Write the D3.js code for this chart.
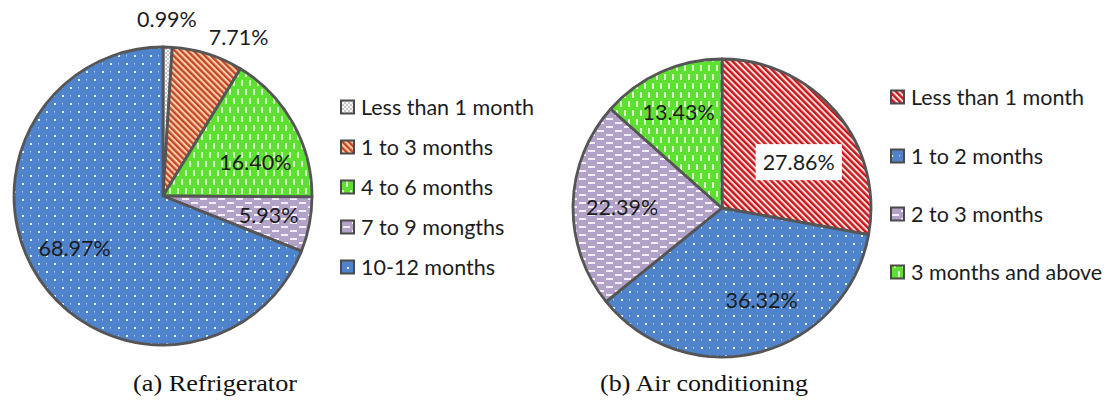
<!DOCTYPE html>
<html>
<head>
<meta charset="utf-8">
<script src="https://cdn.jsdelivr.net/npm/d3@7"></script>
<style>
  html, body { margin: 0; padding: 0; background: #ffffff; }
  svg { display: block; }
</style>
</head>
<body>
<svg id="chart" width="1114" height="403"></svg>
<script>
// ---------------- data ----------------
const fridgeCategories = ["Less than 1 month", "1 to 3 months", "4 to 6 months", "7 to 9 mongths", "10-12 months"];
const fridgeValues = [0.99, 7.71, 16.40, 5.93, 68.97];
const fridgeLabels = ["0.99%", "7.71%", "16.40%", "5.93%", "68.97%"];

const acCategories = ["Less than 1 month", "1 to 2 months", "2 to 3 months", "3 months and above"];
const acValues = [27.86, 36.32, 22.39, 13.43];
const acLabels = ["27.86%", "36.32%", "22.39%", "13.43%"];

const captions = ["(a) Refrigerator", "(b) Air conditioning"];

// ---------------- styling / layout ----------------
const svg = d3.select("#chart");
svg.append("rect").attr("width", 1114).attr("height", 403).attr("fill", "#fff");
const defs = svg.append("defs");

function pat(id, w, h, bg, draw) {
  const p = defs.append("pattern").attr("id", id).attr("patternUnits", "userSpaceOnUse")
    .attr("width", w).attr("height", h);
  p.append("rect").attr("width", w).attr("height", h).attr("fill", bg);
  draw(p);
}
// grey checker (less than 1 month, fridge)
pat("pGrey", 4, 4, "#c9c9c9", p => {
  p.append("rect").attr("x", 0).attr("y", 0).attr("width", 2).attr("height", 2).attr("fill", "#f4f4f4");
  p.append("rect").attr("x", 2).attr("y", 2).attr("width", 2).attr("height", 2).attr("fill", "#f4f4f4");
});
// orange/red diagonal (fridge 1-3 months)
pat("pOrange", 4.4, 4.4, "#f8cfa4", p => {
  p.attr("patternTransform", "rotate(-45)");
  p.append("rect").attr("x", 0).attr("y", 0).attr("width", 2.3).attr("height", 4.4).attr("fill", "#c4442a");
});
// red/white diagonal (ac less than 1 month)
pat("pRed", 4.4, 4.4, "#f7dcd8", p => {
  p.attr("patternTransform", "rotate(-45)");
  p.append("rect").attr("x", 0).attr("y", 0).attr("width", 2.4).attr("height", 4.4).attr("fill", "#c8161c");
});
// green with vertical white dashes
pat("pGreen", 8, 18, "#5ee033", p => {
  p.append("rect").attr("x", 2).attr("y", 1).attr("width", 2).attr("height", 6).attr("fill", "#d6f7c6");
  p.append("rect").attr("x", 6).attr("y", 10).attr("width", 2).attr("height", 6).attr("fill", "#d6f7c6");
});
// purple with horizontal white dashes
pat("pPurple", 18, 8, "#b2a2c8", p => {
  p.append("rect").attr("x", 1).attr("y", 2).attr("width", 7).attr("height", 2).attr("fill", "#f4eefa");
  p.append("rect").attr("x", 10).attr("y", 6).attr("width", 7).attr("height", 2).attr("fill", "#f4eefa");
});
// blue with white dots
pat("pBlue", 16, 16, "#4f84cc", p => {
  p.append("rect").attr("x", 3).attr("y", 3).attr("width", 2).attr("height", 2).attr("fill", "#e6f0ff");
  p.append("rect").attr("x", 11).attr("y", 11).attr("width", 2).attr("height", 2).attr("fill", "#e6f0ff");
  p.append("rect").attr("x", 11).attr("y", 3).attr("width", 1).attr("height", 1.5).attr("fill", "#b8d0f0");
  p.append("rect").attr("x", 3).attr("y", 11).attr("width", 1).attr("height", 1.5).attr("fill", "#b8d0f0");
});

const fridgeFills = ["url(#pGrey)", "url(#pOrange)", "url(#pGreen)", "url(#pPurple)", "url(#pBlue)"];
const acFills = ["url(#pRed)", "url(#pBlue)", "url(#pPurple)", "url(#pGreen)"];

const outline = "#555555";
const labelFont = "Lato, 'Open Sans', sans-serif";
const labelSize = 21.5;

function drawPie(cfg) {
  const g = svg.append("g").attr("transform", `translate(${cfg.cx},${cfg.cy})`);
  const pie = d3.pie().sort(null).value(d => d);
  const arcs = pie(cfg.values);
  const arc = d3.arc().innerRadius(0).outerRadius(cfg.r);
  g.selectAll("path.slice").data(arcs).join("path")
    .attr("class", "slice")
    .attr("d", arc)
    .attr("fill", (d, i) => cfg.fills[i])
    .attr("stroke", outline)
    .attr("stroke-width", 2.8)
    .attr("stroke-linejoin", "round");

  arcs.forEach((d, i) => {
    const k = cfg.labelRadius[i] * cfg.r;
    const a = (d.startAngle + d.endAngle) / 2 + cfg.labelNudge[i] * Math.PI / 180;
    const c = d3.arc().innerRadius(k).outerRadius(k).centroid({ startAngle: a, endAngle: a });
    const t = g.append("text")
      .attr("x", c[0]).attr("y", c[1])
      .attr("text-anchor", "middle")
      .attr("dominant-baseline", "central")
      .attr("font-family", labelFont)
      .attr("font-size", labelSize)
      .attr("fill", "#1c1c1c")
      .text(cfg.labels[i]);
    if (cfg.boxed[i]) {
      const bb = t.node().getBBox();
      g.insert("rect", "text")
        .attr("x", bb.x - 7).attr("y", bb.y - 5)
        .attr("width", bb.width + 14).attr("height", bb.height + 10)
        .attr("fill", "#fff");
      t.raise();
    }
  });

  // legend
  const lg = svg.append("g");
  cfg.categories.forEach((c, i) => {
    const y = cfg.legendY[i];
    lg.append("rect")
      .attr("x", cfg.legendX).attr("y", y - 6.5)
      .attr("width", 13).attr("height", 13)
      .attr("fill", cfg.fills[i])
      .attr("stroke", "#4a4a4a").attr("stroke-width", 2);
    lg.append("text")
      .attr("x", cfg.legendX + 20).attr("y", y)
      .attr("dominant-baseline", "central")
      .attr("font-family", labelFont)
      .attr("font-size", labelSize)
      .attr("fill", "#1c1c1c")
      .text(c);
  });

  svg.append("text")
    .attr("x", cfg.captionX).attr("y", 391)
    .attr("text-anchor", "middle")
    .attr("font-family", "'Liberation Serif', 'DejaVu Serif', serif")
    .attr("font-size", 24)
    .attr("fill", "#111")
    .attr("textLength", cfg.captionWidth)
    .attr("lengthAdjust", "spacingAndGlyphs")
    .text(cfg.caption);
}

drawPie({
  cx: 163, cy: 196, r: 149,
  values: fridgeValues, labels: fridgeLabels, categories: fridgeCategories, fills: fridgeFills,
  labelRadius: [1.19, 1.18, 0.66, 0.72, 0.69],
  labelNudge: [-0.5, 8, 9, -1, 3.5],
  boxed: [false, false, false, false, false],
  legendX: 341, legendY: [107, 147, 187, 227, 267],
  captionX: 215, captionWidth: 164, caption: captions[0]
});

drawPie({
  cx: 722, cy: 208, r: 149,
  values: acValues, labels: acLabels, categories: acCategories, fills: acFills,
  labelRadius: [0.6, 0.67, 0.67, 0.71],
  labelNudge: [9, -9, -1, 0],
  boxed: [true, false, false, false],
  legendX: 891, legendY: [97, 156, 214, 272],
  captionX: 704, captionWidth: 208, caption: captions[1]
});
</script>
</body>
</html>
